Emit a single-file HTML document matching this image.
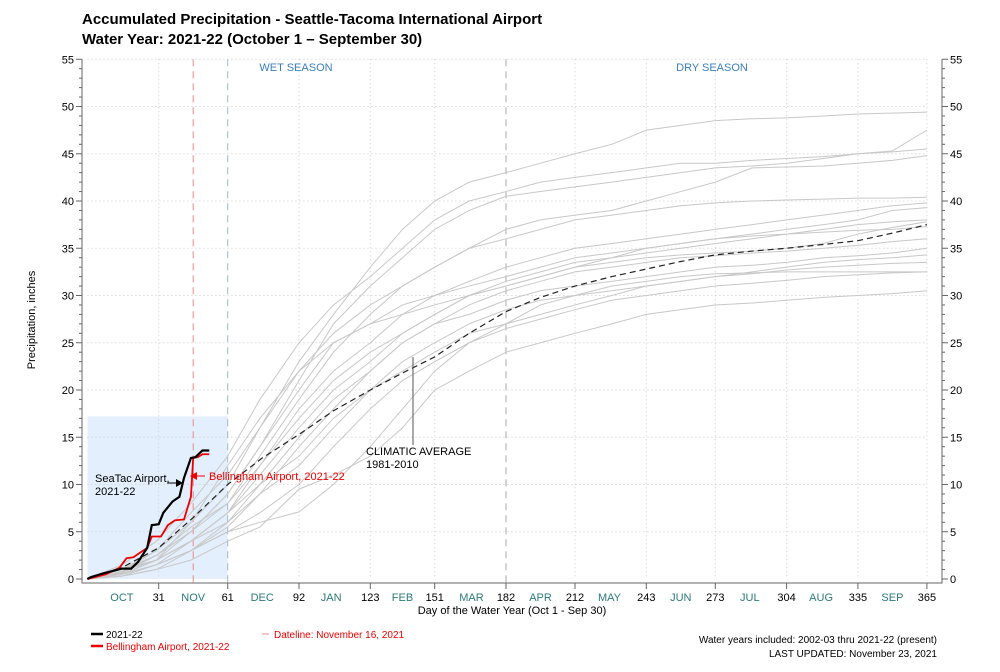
<!DOCTYPE html>
<html><head><meta charset="utf-8"><style>
body{margin:0;background:#fff;font-family:"Liberation Sans",sans-serif}
svg text{font-family:"Liberation Sans",sans-serif}
</style></head><body>
<svg id="c" width="1000" height="667" viewBox="0 0 1000 667" xmlns="http://www.w3.org/2000/svg">
<text x="82" y="24" font-size="15" font-weight="bold">Accumulated Precipitation - Seattle-Tacoma International Airport</text>
<text x="82" y="44" font-size="15" font-weight="bold">Water Year: 2021-22 (October 1 – September 30)</text>
<g id="plot"></g>
</svg>
<script>
const yTicks=[0,5,10,15,20,25,30,35,40,45,50,55];
const dayTicks=[31,61,92,123,151,182,212,243,273,304,335,365];
const monthLabels=["OCT","NOV","DEC","JAN","FEB","MAR","APR","MAY","JUN","JUL","AUG","SEP"];
const monthDays=[15,46,76,106,137,167,197,227,258,288,319,350];
const sampleDays=[0,15,30,45,61,75,92,107,123,137,151,166,182,197,212,228,243,258,273,289,304,320,335,350,365];
const hist1=[0,1,3,6,10,16,23,28,33,37,40,42,43,44,45,46,47.5,48,48.5,48.7,48.8,49,49.2,49.3,49.4];
const hist2=[0,1.5,4,8,13,19,25,29,32,35,38,40,41,42,42.5,43,43.5,44,44,44.3,44.5,44.7,45,45.3,47.5];
const hist3=[0,0.5,2,5,9,14,21,27,31,34,37,39,40.5,41,41.5,42,42.5,43,43.5,43.7,44,44.5,45,45.2,45.5];
const hist4=[0,0.8,3,7,11,16,22,26,29,31,33,35,37,38,38.5,39,40,41,42,43.5,43.6,43.7,44,44.3,44.8];
const hist5=[0,1,2.5,5,8,13,19,24,28,31,33,35,36,37,38,38.5,39,39.5,39.8,40,40.1,40.2,40.3,40.3,40.4];
const hist6=[0,0.5,2,6,12,17,22,25,27,29,30,31.5,33,34,35,35.5,36,36.5,37,37.5,38,38.5,39,39.5,39.8];
const hist7=[0,0.7,2.5,5,9,14,20,25,27,28,29,30,31,32,33,34,35,35.5,36,36.5,37,37.5,38,39,39.3];
const hist8=[0,0.3,1.5,4,7,11,16,20,23,26,28,30,31.5,32.5,33.5,34,34.5,35,35.5,36,36.5,37,37.5,37.8,38];
const hist9=[0,1,2,4,7,12,18,22,25,28,30,31,32,33,34,34.5,35,35.5,36,36.3,36.5,36.7,36.9,37,37.3];
const hist10=[0,0.5,1.5,3,6,10,15,19,22,25,27,29,30.5,31.5,32.5,33,33.5,34,34.2,34.5,34.7,35,35.3,35.7,36];
const hist11=[0,0.3,1,3,5.5,9,14,18,22,25,27,28,29.5,30.5,31,31.5,32,32.5,33,33.2,33.5,34,34.2,34.5,35];
const hist12=[0,0.5,2,4,7,10,13,17,20,22,24,26,27,28,29,30,31,31.5,32,32.5,33,33.5,33.8,34,34.3];
const hist13=[0,0.8,2,4,6,9,12,16,20,23,25,27,28.5,29.5,30,30.5,31,31.5,32,32.3,32.7,33,33.2,33.4,33.5];
const hist14=[0,0.5,1.5,3,5,7,10,14,18,21,23,25,26.5,27.5,28.5,29.5,30,30.5,31,31.3,31.6,32,32.2,32.4,32.5];
const hist15=[0,0.3,1,2,4,5.5,9.5,11,13,16,20,22,24,25,26,27,28,28.5,29,29.2,29.5,29.8,30,30.2,30.5];
const hist16=[0,0.5,1.5,3,5,6,7.1,10,14,18,22,25,27,29,30,31,31.5,32,32.3,32.4,32.5,32.5,32.5,32.5,32.5];
const hist17=[0,0.6,2.5,5.5,8,12,17,21,24,26,28,30,31,32,33,33.5,34,34.3,34.5,34.7,35,35.5,36.5,37.2,37.8];
const histSeries=[hist1,hist2,hist3,hist4,hist5,hist6,hist7,hist8,hist9,hist10,hist11,hist12,hist13,hist14,hist15,hist16,hist17];
const avgDays=[0,15,31,46,61,76,92,107,123,137,151,166,182,197,212,228,243,258,273,289,304,320,335,350,365];
const avgValues=[0,1.2,3.3,6.5,10,12.8,15.3,17.8,20,21.8,23.5,26,28.3,29.8,31,32,32.8,33.6,34.3,34.7,35,35.4,35.8,36.6,37.5];
const seaDays=[0,1.5,7,15,19,22,26,28,31,33,37,40,42,45,47,50,53];
const seaValues=[0,0.2,0.6,1.1,1.1,1.8,3.3,5.7,5.8,7.0,8.2,8.7,10.7,12.8,12.9,13.6,13.6];
const belDays=[0,5,8,14,17,20,26,28,32,35,38,42,45,46,48,50,53];
const belValues=[0,0.3,0.5,1.2,2.2,2.3,3.3,4.5,4.5,5.7,6.2,6.3,8.7,12.8,12.9,13.2,13.2];

const X=d=>87.4+2.3*d, Y=v=>579-9.45*v;
const g=document.getElementById('plot');
const NS='http://www.w3.org/2000/svg';
function mk(tag,attrs,parent){const e=document.createElementNS(NS,tag);for(const k in attrs)e.setAttribute(k,attrs[k]);(parent||g).appendChild(e);return e;}
// shaded region
let r=mk('rect',{x:X(0),y:Y(17.2),width:X(61)-X(0),height:Y(0)-Y(17.2),fill:'#e3effc'});


// gridlines
yTicks.forEach(v=>{if(v===0)return;const l=mk('line',{x1:X(0),x2:X(365),y1:Y(v),y2:Y(v),stroke:'#ccc','stroke-dasharray':'1,3'});

});
dayTicks.forEach(d=>{if(d===61||d===182)return;const l=mk('line',{x1:X(d),x2:X(d),y1:Y(55),y2:Y(0),stroke:'#ccc','stroke-dasharray':'1,3'});

});
// axes
const ax=mk('path',{d:`M82,${Y(55)}V583H942V${Y(55)}`,fill:'none',stroke:'#666'});


for(let v=0;v<=55;v++){const len=v%5===0?6:3;
mk('line',{x1:82-len,x2:82,y1:Y(v),y2:Y(v),stroke:'#666'});mk('line',{x1:942,x2:942+len,y1:Y(v),y2:Y(v),stroke:'#666'});}
yTicks.forEach(v=>{const t=mk('text',{x:74,y:Y(v)+4,'font-size':11,'text-anchor':'end'});t.textContent=v;


const t2=mk('text',{x:950,y:Y(v)+4,'font-size':11});t2.textContent=v;

});
dayTicks.forEach(d=>{mk('line',{x1:X(d),x2:X(d),y1:583,y2:589,stroke:'#666'});
const t=mk('text',{x:X(d),y:601,'font-size':11,'text-anchor':'middle'});t.textContent=d;

});
monthLabels.forEach((m,i)=>{const t=mk('text',{x:X(monthDays[i]),y:601,'font-size':11,'text-anchor':'middle',fill:'#2b7a7a'});t.textContent=m;

});
// season lines
[[46,'#e88'],[61,'#9bc'],[182,'#aaa']].forEach(([d,c])=>{const l=mk('line',{x1:X(d),x2:X(d),y1:Y(55),y2:583,stroke:c,'stroke-dasharray':'7,5'});

});
// historical
histSeries.forEach(s=>{const p=mk('polyline',{points:s.map((v,i)=>X(sampleDays[i])+','+Y(v)).join(' '),fill:'none',stroke:'#c8c8c8','stroke-width':1});

});
const av=mk('polyline',{points:avgValues.map((v,i)=>X(avgDays[i])+','+Y(v)).join(' '),fill:'none',stroke:'#222','stroke-width':1.2,'stroke-dasharray':'6,4'});


const bl=mk('polyline',{points:belValues.map((v,i)=>X(belDays[i])+','+Y(v)).join(' '),fill:'none',stroke:'#e00','stroke-width':1.8});


const sl=mk('polyline',{points:seaValues.map((v,i)=>X(seaDays[i])+','+Y(v)).join(' '),fill:'none',stroke:'#000','stroke-width':2.2});


</script>
<svg style="position:absolute;left:0;top:0" width="1000" height="667" xmlns="http://www.w3.org/2000/svg">
<text x="296" y="71" font-size="11" fill="#3a7fc0" text-anchor="middle">WET SEASON</text>
<text x="712" y="71" font-size="11" fill="#3a7fc0" text-anchor="middle">DRY SEASON</text>
<text x="95" y="482" font-size="11">SeaTac Airport,</text>
<text x="95" y="495" font-size="11">2021-22</text>
<line x1="167" y1="483" x2="180" y2="483" stroke="#000"/><polygon points="183,483 176,479 176,487" fill="#000"/>
<polygon points="190,476 197,472 197,480" fill="#e00"/><line x1="197" y1="476" x2="205" y2="476" stroke="#e00"/>
<text x="209" y="480" font-size="11" fill="#e00">Bellingham Airport, 2021-22</text>
<line x1="413" y1="357" x2="413" y2="445" stroke="#555"/>
<text x="366" y="455" font-size="11">CLIMATIC AVERAGE</text>
<text x="366" y="468" font-size="11">1981-2010</text>
<text transform="translate(35,320) rotate(-90)" font-size="11" text-anchor="middle">Precipitation, inches</text>
<text x="512" y="614" font-size="11" text-anchor="middle">Day of the Water Year (Oct 1 - Sep 30)</text>
<g><line x1="91" y1="634" x2="103" y2="634" stroke="#000" stroke-width="2.5"/><text x="106" y="638" font-size="10">2021-22</text></g>
<g><line x1="91" y1="646" x2="103" y2="646" stroke="#e00" stroke-width="2.5"/><text x="106" y="650" font-size="10" fill="#e00">Bellingham Airport, 2021-22</text></g>
<g><line x1="262" y1="634" x2="269" y2="634" stroke="#e88"/><text x="274" y="638" font-size="10" fill="#e00">Dateline: November 16, 2021</text></g>
<text x="937" y="643" font-size="10" text-anchor="end">Water years included: 2002-03 thru 2021-22 (present)</text>
<text x="937" y="657" font-size="10" text-anchor="end">LAST UPDATED: November 23, 2021</text>
</svg>
</body></html>
